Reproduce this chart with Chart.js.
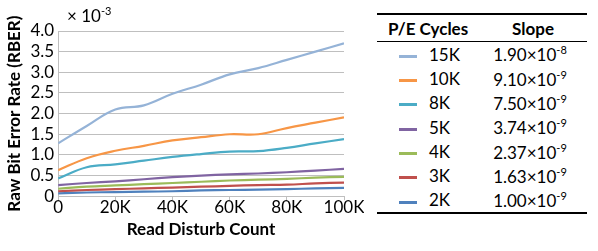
<!DOCTYPE html>
<html>
<head>
<meta charset="utf-8">
<script src="https://cdn.jsdelivr.net/npm/chart.js@4.4.0/dist/chart.umd.min.js"></script>
<style>
  body { margin: 0; background: #fff; font-family: Lato, "Open Sans", sans-serif; }
  #wrap { position: absolute; left: 0; top: 0; width: 364px; height: 251px; }
  #mult { position: absolute; left: 67px; top: 4px; font-size: 17px; color: #000; }
  #mult sup { font-size: 11px; }
  #legend { position: absolute; left: 377px; top: 13px; width: 210px; border-collapse: collapse;
            border-top: 2px solid #000; border-bottom: 2px solid #000; font-size: 17px; }
  #legend th { font-weight: bold; padding: 3px 0 2px; border-bottom: 1.5px solid #000; text-align: center; }
  #legend td { height: 24.3px; padding: 0; }
  .sw { display: inline-block; width: 18px; height: 3px; vertical-align: middle; margin: 0 12px 0 22px; }
  .sl { text-align: left; padding-left: 14px !important; }
  sup { font-size: 11px; }
</style>
</head>
<body>
<div id="wrap"><canvas id="myChart"></canvas></div>
<div id="mult">× 10<sup>-3</sup></div>
<table id="legend"><thead><tr><th>P/E Cycles</th><th>Slope</th></tr></thead><tbody id="lb"></tbody></table>
<script>
const readCounts = [0, 10000, 20000, 30000, 40000, 50000, 60000, 70000, 80000, 90000, 100000];
const cycles = ["15K", "10K", "8K", "5K", "4K", "3K", "2K"];
const slopeBase = ["1.90", "9.10", "7.50", "3.74", "2.37", "1.63", "1.00"];
const slopeExp = ["-8", "-9", "-9", "-9", "-9", "-9", "-9"];
const colors = ["#95B3D7", "#F79646", "#4BACC6", "#8064A2", "#9BBB59", "#C0504D", "#4F81BD"];

// RBER values, x 10^-3
const rber15K = [1.28, 1.7, 2.1, 2.2, 2.48, 2.7, 2.95, 3.1, 3.3, 3.5, 3.7];
const rber10K = [0.63, 0.92, 1.1, 1.22, 1.35, 1.43, 1.5, 1.5, 1.65, 1.78, 1.91];
const rber8K = [0.43, 0.7, 0.77, 0.86, 0.95, 1.02, 1.08, 1.09, 1.17, 1.28, 1.38];
const rber5K = [0.27, 0.32, 0.36, 0.41, 0.46, 0.5, 0.53, 0.55, 0.58, 0.62, 0.66];
const rber4K = [0.18, 0.23, 0.26, 0.29, 0.32, 0.35, 0.38, 0.4, 0.42, 0.45, 0.47];
const rber3K = [0.12, 0.15, 0.17, 0.19, 0.21, 0.23, 0.25, 0.27, 0.28, 0.31, 0.33];
const rber2K = [0.07, 0.09, 0.1, 0.11, 0.12, 0.14, 0.15, 0.16, 0.17, 0.19, 0.2];
const series = [rber15K, rber10K, rber8K, rber5K, rber4K, rber3K, rber2K];

Chart.defaults.font.family = "Lato, 'Open Sans', sans-serif";
Chart.defaults.color = "#000";

const ctx = document.getElementById("myChart").getContext("2d");
new Chart(ctx, {
  type: "line",
  data: {
    datasets: series.map((vals, i) => ({
      label: cycles[i],
      data: vals.map((v, j) => ({ x: readCounts[j], y: v })),
      borderColor: colors[i],
      borderWidth: 2.2,
      pointRadius: 0,
      tension: 0.4,
      fill: false,
    })),
  },
  options: {
    responsive: true,
    maintainAspectRatio: false,
    animation: false,
    layout: { padding: { top: 31, right: 20, bottom: 11, left: 2 } },
    scales: {
      x: {
        type: "linear",
        min: 0,
        max: 100000,
        border: { color: "#BFBFBF" },
        grid: { drawOnChartArea: false, drawTicks: true, tickLength: 4, color: "#BFBFBF" },
        ticks: {
          stepSize: 20000,
          font: { size: 17 },
          padding: -3,
          maxRotation: 0,
          callback: function (value) {
            return value === 0 ? "0" : value / 1000 + "K";
          },
        },
        title: { display: true, text: "Read Disturb Count", font: { size: 17, weight: "bold" }, padding: { top: 5, bottom: 0 } },
      },
      y: {
        min: 0,
        max: 4,
        border: { color: "#BFBFBF" },
        grid: { color: "#BFBFBF", drawTicks: false },
        ticks: {
          stepSize: 0.5,
          autoSkip: false,
          font: { size: 17 },
          padding: 4,
          callback: function (value) {
            return value === 0 ? "0" : value.toFixed(1);
          },
        },
        title: { display: true, text: "Raw Bit Error Rate (RBER)", font: { size: 17, weight: "bold" }, padding: 2 },
      },
    },
    plugins: {
      legend: { display: false },
      tooltip: { enabled: false },
    },
  },
});

const lb = document.getElementById("lb");
cycles.forEach((c, i) => {
  const tr = document.createElement("tr");
  tr.innerHTML = '<td><span class="sw" style="background:' + colors[i] + '"></span>' + c + '</td>' +
    '<td class="sl">' + slopeBase[i] + '×10<sup>' + slopeExp[i] + '</sup></td>';
  lb.appendChild(tr);
});
</script>
</body>
</html>
